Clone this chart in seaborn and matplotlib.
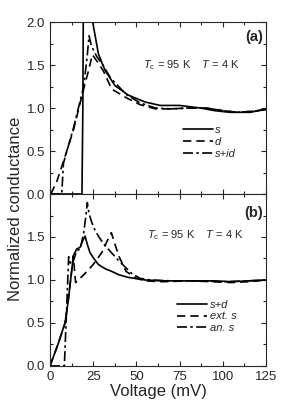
import numpy as np
import pandas as pd
import seaborn as sns
import matplotlib
matplotlib.use("Agg")
import matplotlib.pyplot as plt
from matplotlib.ticker import MultipleLocator

# panel (a): s, d, s+id
v_s = [0, 18.5, 19.0, 19.5, 20.5, 22, 24.7, 28, 31.8, 37.6, 45.3, 55, 63.7, 75, 87, 95, 104, 116, 125]
g_s = [0, 0, 1.0, 3.0, 3.2, 2.5, 2.0, 1.63, 1.44, 1.26, 1.15, 1.07, 1.03, 1.03, 1.00, 0.97, 0.95, 0.95, 0.99]

v_d = [0.5, 4, 7.8, 13.5, 19.7, 22.5, 24.5, 27, 30.9, 35.7, 45, 52, 61, 70, 80, 90, 100, 108, 116, 125]
g_d = [0, 0.15, 0.38, 0.74, 1.24, 1.45, 1.62, 1.55, 1.43, 1.22, 1.11, 1.04, 0.99, 0.99, 1.0, 1.0, 0.97, 0.95, 0.96, 0.98]

v_sid = [0, 6.8, 7.8, 13.5, 19.5, 21.5, 22.6, 24, 27, 30, 35, 44, 52, 61, 70, 80, 90, 100, 108, 116, 125]
g_sid = [0, 0, 0.36, 0.76, 1.25, 1.6, 1.84, 1.72, 1.6, 1.52, 1.35, 1.16, 1.06, 1.0, 0.99, 1.0, 1.0, 0.97, 0.95, 0.96, 0.98]

# panel (b): s+d, ext. s, an. s
v_sd = [0, 4.6, 8.7, 10.5, 12.5, 13.5, 15.4, 17.4, 19, 20.3, 21.5, 23.1, 25, 28, 32, 35.7, 40, 45.3, 55, 65, 80, 95, 105, 115, 125]
g_sd = [0, 0.25, 0.5, 0.75, 1.1, 1.28, 1.36, 1.38, 1.46, 1.51, 1.42, 1.32, 1.26, 1.18, 1.13, 1.10, 1.06, 1.03, 1.0, 0.99, 0.99, 0.99, 0.98, 0.99, 1.0]

v_ext = [0, 4.6, 8.7, 10.5, 12.5, 13.5, 14.8, 20, 25, 30, 33, 35.5, 37, 40, 44, 50, 55, 65, 80, 95, 105, 115, 125]
g_ext = [0, 0.25, 0.5, 0.75, 1.1, 1.28, 0.97, 1.07, 1.18, 1.32, 1.45, 1.55, 1.45, 1.27, 1.1, 1.02, 0.99, 0.98, 0.99, 0.98, 0.97, 0.98, 1.0]

v_an = [0, 8.3, 9.5, 10.8, 12, 13.5, 15.5, 17.5, 19.5, 20.8, 21.6, 22.5, 24, 26, 28, 31, 35, 38.6, 42, 47, 52, 58, 70, 85, 100, 115, 125]
g_an = [0, 0, 0.6, 1.27, 1.18, 1.22, 1.34, 1.36, 1.55, 1.75, 1.90, 1.78, 1.68, 1.58, 1.51, 1.42, 1.33, 1.25, 1.18, 1.08, 1.02, 1.0, 0.99, 0.99, 0.98, 0.99, 1.0]

sns.set_style("ticks")
plt.rcParams['font.family'] = ['Liberation Sans', 'DejaVu Sans']
plt.rcParams['mathtext.fontset'] = 'custom'
plt.rcParams['mathtext.rm'] = 'Liberation Sans'
plt.rcParams['mathtext.it'] = 'Liberation Sans:italic'
plt.rcParams['xtick.direction'] = 'in'
plt.rcParams['ytick.direction'] = 'in'

fig, (ax1, ax2) = plt.subplots(2, 1, sharex=True, figsize=(2.84, 4.08), dpi=100)
fig.subplots_adjust(left=0.176, right=0.937, top=0.946, bottom=0.103, hspace=0)

lw = 1.2
sns.lineplot(x=v_s, y=g_s, ax=ax1, color='k', lw=lw, linestyle='-', label='s')
sns.lineplot(x=v_d, y=g_d, ax=ax1, color='k', lw=lw, linestyle=(0, (5, 3)), label='d')
sns.lineplot(x=v_sid, y=g_sid, ax=ax1, color='k', lw=lw, linestyle=(0, (6, 2, 1.5, 2)), label='s+id')

sns.lineplot(x=v_sd, y=g_sd, ax=ax2, color='k', lw=lw, linestyle='-', label='s+d')
sns.lineplot(x=v_ext, y=g_ext, ax=ax2, color='k', lw=lw, linestyle=(0, (5, 3)), label='ext. s')
sns.lineplot(x=v_an, y=g_an, ax=ax2, color='k', lw=lw, linestyle=(0, (6, 2, 1.5, 2)), label='an. s')

for ax in (ax1, ax2):
    ax.set_xlim(0, 125)
    ax.set_ylim(0, 2.0)
    ax.xaxis.set_major_locator(MultipleLocator(25))
    ax.xaxis.set_minor_locator(MultipleLocator(12.5))
    ax.yaxis.set_minor_locator(MultipleLocator(0.25))
    ax.tick_params(which='both', top=True, right=True, direction='in', labelsize=9.5, width=0.8)
    ax.tick_params(which='major', length=3.5)
    ax.tick_params(which='minor', length=2)
    for sp in ax.spines.values():
        sp.set_linewidth(0.8)
    ax.set_ylabel('')

ax1.set_yticks([0, 0.5, 1.0, 1.5, 2.0])
ax1.set_yticklabels(['0.0', '0.5', '1.0', '1.5', '2.0'])
ax2.set_yticks([0, 0.5, 1.0, 1.5, 2.0])
ax2.set_yticklabels(['0.0', '0.5', '1.0', '1.5', ''])
ax2.set_xticks([0, 25, 50, 75, 100, 125])
ax2.set_xticklabels(['0', '25', '50', '75', '100', '125'])
ax1.tick_params(labelbottom=False)

leg_kw = dict(frameon=False, fontsize=8, handlelength=2.7, handletextpad=0.2,
              labelspacing=0.15, borderpad=0, borderaxespad=0, loc='upper left')
l1 = ax1.legend(bbox_to_anchor=(0.615, 0.40), **leg_kw)
l2 = ax2.legend(bbox_to_anchor=(0.59, 0.385), **leg_kw)
for lg in (l1, l2):
    for t in lg.get_texts():
        t.set_style('italic')

ax1.text(54, 1.5, r'$T_{\rm c}$ = 95 K    $T$ = 4 K', fontsize=8, va='center', ha='left')
ax2.text(56, 1.52, r'$T_{\rm c}$ = 95 K    $T$ = 4 K', fontsize=8, va='center', ha='left')
ax1.text(0.985, 0.915, '(a)', transform=ax1.transAxes, fontsize=10.5, fontweight='bold', ha='right', va='center')
ax2.text(0.985, 0.89, '(b)', transform=ax2.transAxes, fontsize=10.5, fontweight='bold', ha='right', va='center')

ax2.set_xlabel('Voltage (mV)', fontsize=12, labelpad=1)
fig.text(0.053, 0.488, 'Normalized conductance', rotation=90, fontsize=12, ha='center', va='center')

fig.savefig('out.png', dpi=100)
